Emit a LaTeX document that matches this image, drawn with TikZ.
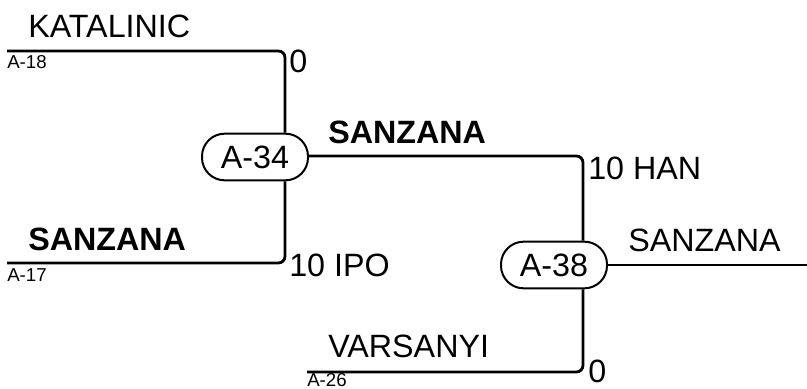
\documentclass[tikz,border=0pt]{standalone}
\usepackage{fontspec}
\setmainfont{Liberation Sans}
\begin{document}
\begin{tikzpicture}[x=0.75pt,y=-0.75pt,
  wire/.style={line width=2.1pt,rounded corners=5pt},
  jbox/.style={draw,line width=1.5pt,rounded corners=17pt,minimum width=79.5pt,minimum height=35pt,inner sep=0pt,font=\fontsize{24.2}{28}\selectfont},
  big/.style={anchor=base west,inner sep=0pt,font=\fontsize{24.2}{28}\selectfont},
  bigb/.style={anchor=base west,inner sep=0pt,font=\fontsize{24.2}{28}\selectfont\bfseries},
  small/.style={anchor=base west,inner sep=0pt,font=\fontsize{14}{16}\selectfont}]
\useasboundingbox (0,0) rectangle (807,389);
% nodes
\node[jbox] (n34) at (255,157) {A-34};
\node[jbox] (n38) at (554,265) {A-38};
% coordinates
\coordinate (s18) at (7,51);
\coordinate (c18) at (285,51);
\coordinate (s17) at (7,263);
\coordinate (c17) at (285,263);
\coordinate (c34) at (583,156);
\coordinate (s26) at (307,372);
\coordinate (c26) at (583,372);
\coordinate (e38) at (807,265);
% connectors
\draw[wire] (s18) -- (c18) -- (c18 |- n34.north);
\draw[wire] (s17) -- (c17) -- (c17 |- n34.south);
\draw[wire] (n34.east |- c34) -- (c34) -- (c34 |- n38.north);
\draw[wire] (s26) -- (c26) -- (c26 |- n38.south);
\draw[wire] (n38.east) -- (e38);
% labels
\node[big] (t1) at (28,37) {KATALINIC};
\node[small] (t2) at (7,68) {A-18};
\node[big] (t3) at (289,72) {0};
\node[bigb] (t4) at (328,143) {SANZANA};
\node[big] (t5) at (588,179) {10 HAN};
\node[bigb] (t6) at (28,250) {SANZANA};
\node[small] (t7) at (7,281) {A-17};
\node[big] (t8) at (289,276) {10 IPO};
\node[big] (t9) at (628,251) {SANZANA};
\node[big] (t10) at (328,357) {VARSANYI};
\node[small] (t11) at (307,386) {A-26};
\node[big] (t12) at (588,382) {0};
\end{tikzpicture}
\end{document}
